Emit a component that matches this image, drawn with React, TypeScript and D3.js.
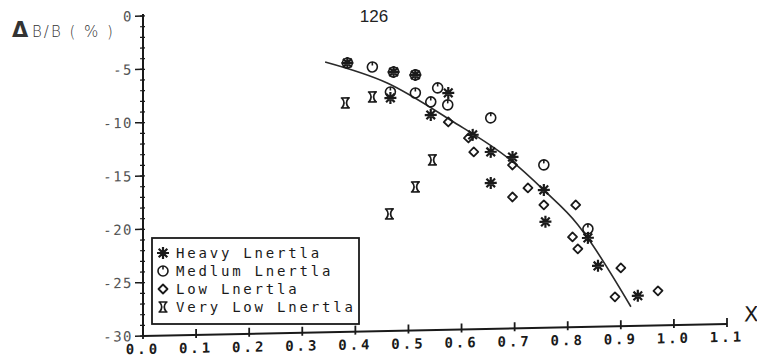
import React from "react";
import * as d3 from "d3";

const heavyX = [0.385, 0.472, 0.513, 0.466, 0.575, 0.542, 0.621, 0.655, 0.696, 0.655, 0.755, 0.758, 0.838, 0.857, 0.932];
const heavyY = [-4.8, -5.73, -6.05, -8.16, -7.8, -9.83, -11.78, -13.41, -13.93, -16.32, -17.08, -20.07, -21.66, -24.3, -27.19];

const mediumX = [0.385, 0.432, 0.472, 0.513, 0.466, 0.513, 0.555, 0.574, 0.542, 0.655, 0.755, 0.838];
const mediumY = [-4.8, -5.22, -5.73, -6.05, -7.6, -7.74, -7.31, -8.92, -8.61, -10.22, -14.73, -20.82];

const lowX = [0.575, 0.613, 0.623, 0.696, 0.696, 0.725, 0.755, 0.815, 0.809, 0.819, 0.9, 0.889, 0.97];
const lowY = [-10.52, -12.06, -13.38, -14.68, -17.68, -16.86, -18.48, -18.55, -21.54, -22.67, -24.54, -27.24, -26.76];

const veryLowX = [0.381, 0.432, 0.545, 0.513, 0.464];
const veryLowY = [-8.54, -8.03, -14.05, -16.55, -19.03];

const fitX = [0.343, 0.46, 0.579, 0.692, 0.755, 0.819, 0.838, 0.919];
const fitY = [-4.66, -6.75, -10.34, -14.2, -17.1, -20.4, -21.7, -28.2];

const xTicks = [0, 0.1, 0.2, 0.3, 0.4, 0.5, 0.6, 0.7, 0.8, 0.9, 1.0, 1.1];
const xTickLabels = ["0.0", "0.1", "0.2", "0.3", "0.4", "0.5", "0.6", "0.7", "0.8", "0.9", "1.0", "1.1"];
const yTicks = [0, -5, -10, -15, -20, -25, -30];
const yTickLabels = ["0", "-5", "-10", "-15", "-20", "-25", "-30"];
const legendLabels = ["Heavy Lnertla", "Medlum Lnertla", "Low Lnertla", "Very Low Lnertla"];

const INK = "#1a1a1a";

const starPath = "M-6,0H6M0,-6V6M-4.3,-4.3L4.3,4.3M-4.3,4.3L4.3,-4.3";
const diamondPath = "M0,-4.5L4.5,0L0,4.5L-4.5,0Z";
const veryLowPath = "M-4.5,-5H4.5M-4.5,5H4.5M-3.5,-5Q1,0 -3.5,5M3.5,-5Q-1,0 3.5,5";

function Symbol({ kind, x, y }: { kind: number; x: number; y: number }) {
  const t = `translate(${x},${y})`;
  if (kind === 0)
    return <path transform={t} d={starPath} stroke={INK} strokeWidth={2.2} fill="none" />;
  if (kind === 1)
    return (
      <g transform={t} stroke={INK} fill="none" strokeWidth={1.6}>
        <circle r={5} />
        <line x1={0} y1={-5} x2={0} y2={-1.5} />
      </g>
    );
  if (kind === 2)
    return <path transform={t} d={diamondPath} stroke={INK} strokeWidth={1.8} fill="none" strokeLinejoin="round" />;
  return <path transform={t} d={veryLowPath} stroke={INK} strokeWidth={1.7} fill="none" />;
}

export default function App() {
  const x = d3.scaleLinear().domain([0, 1.1]).range([0, 584]);
  const y = d3.scaleLinear().domain([-30, 0]).range([336, 16]);
  const line = d3
    .line<number>()
    .x((_, i) => x(fitX[i]))
    .y((d) => y(d))
    .curve(d3.curveMonotoneX);

  const series = [
    { xs: heavyX, ys: heavyY },
    { xs: mediumX, ys: mediumY },
    { xs: lowX, ys: lowY },
    { xs: veryLowX, ys: veryLowY },
  ];
  const minor = d3.range(-30, 1, 1);
  const mono = "'DejaVu Sans Mono', monospace";

  return (
    <svg width={757} height={358} style={{ position: "absolute", left: 0, top: 0, background: "#fff" }}>
      <text x={374} y={22} textAnchor="middle" fontFamily="'Liberation Sans', Arial" fontSize={17} fill="#222">
        126
      </text>
      <g fill="#333" fontFamily="'DejaVu Sans', sans-serif">
        <text x={12} y={37} fontSize={21} fontWeight={700}>Δ</text>
        <text x={32} y={37} fontSize={15} letterSpacing={2} fontWeight={300}>B/B ( % )</text>
      </g>

      <g transform="translate(143,0) skewY(-1.18)">
        <line x1={0} x2={0} y1={y(0) - 2} y2={y(-30)} stroke={INK} strokeWidth={2} />
        {minor.map((v) => (
          <line key={"m" + v} x1={-3} x2={2} y1={y(v)} y2={y(v)} stroke={INK} strokeWidth={1.2} />
        ))}
        {yTicks.map((v, i) => (
          <g key={"y" + v}>
            <line x1={-8} x2={0} y1={y(v)} y2={y(v)} stroke={INK} strokeWidth={1.5} />
            <text x={-10} y={y(v) + 5} textAnchor="end" fontFamily={mono} fontSize={14} letterSpacing={1.5} fill="#555">
              {yTickLabels[i]}
            </text>
          </g>
        ))}
        <line x1={0} x2={x(1.1)} y1={y(-30)} y2={y(-30)} stroke={INK} strokeWidth={2} />
        {xTicks.map((v, i) => (
          <g key={"x" + v}>
            <line x1={x(v)} x2={x(v)} y1={y(-30) - 6} y2={y(-30) + 3} stroke={INK} strokeWidth={1.8} />
            <text x={x(v)} y={y(-30) + 18} textAnchor="middle" fontFamily={mono} fontSize={14} fontWeight={700} letterSpacing={3} fill={INK}>
              {xTickLabels[i]}
            </text>
          </g>
        ))}
        <text x={x(1.1) + 17} y={y(-30) - 2} fontFamily="'DejaVu Sans', sans-serif" fontSize={21} fill={INK}>
          X
        </text>

        <path d={line(fitY) || ""} fill="none" stroke="#2a2a2a" strokeWidth={1.6} />

        {series.map((s, k) =>
          s.xs.map((xv, i) => <Symbol key={k + "-" + i} kind={k} x={x(xv)} y={y(s.ys[i])} />)
        )}
      </g>

      <g>
        <rect x={152} y={238} width={207} height={86} fill="#fff" stroke={INK} strokeWidth={1.8} />
        {legendLabels.map((lab, i) => (
          <g key={lab}>
            <Symbol kind={i} x={163} y={253 + i * 18} />
            <text x={176} y={258 + i * 18} fontFamily={mono} fontSize={14} letterSpacing={2.8} fill={INK}>
              {lab}
            </text>
          </g>
        ))}
      </g>
    </svg>
  );
}
